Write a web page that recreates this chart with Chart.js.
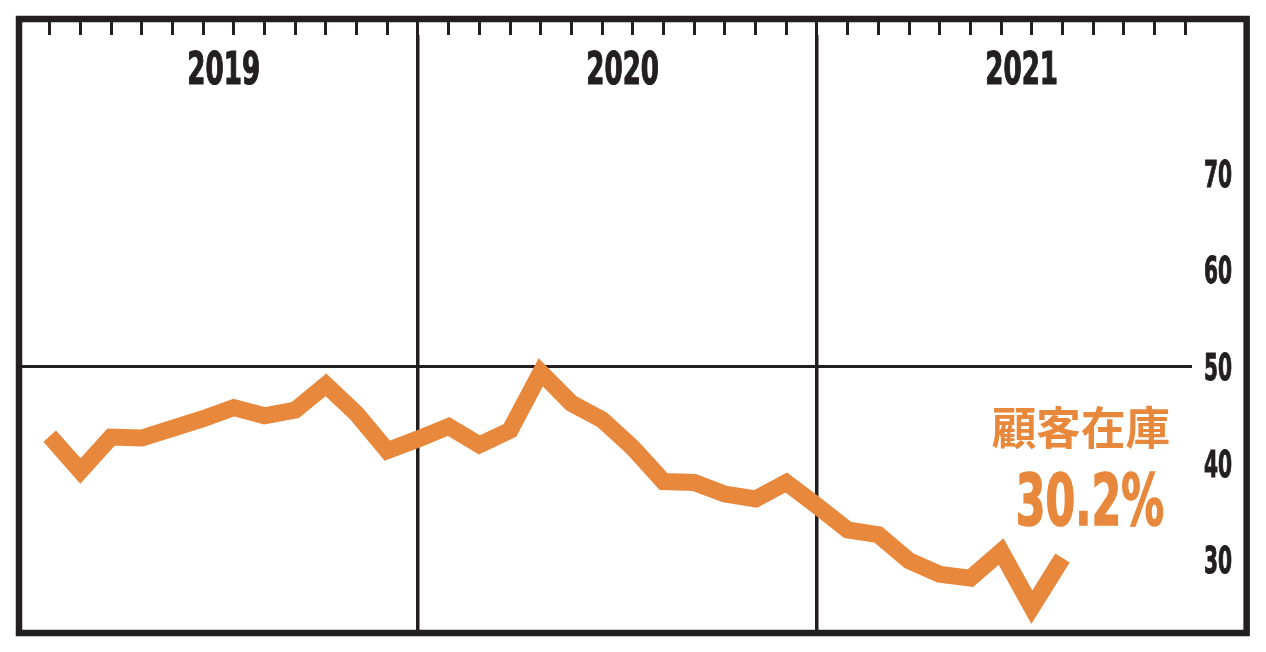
<!DOCTYPE html>
<html>
<head>
<meta charset="utf-8">
<script src="https://cdn.jsdelivr.net/npm/chart.js@4"></script>
<style>
  html, body { margin: 0; padding: 0; background: #fff; }
  #wrap { width: 1266px; height: 652px; }
</style>
</head>
<body>
<div id="wrap"><canvas id="chart" width="1266" height="652"></canvas></div>
<script>
// 13 four-week periods per year
const years = ['2019', '2020', '2021'];
const yearStart = [0, 13, 26];
const stock = [42.8, 39.2, 42.7, 42.6, 43.6, 44.6, 45.75, 44.9, 45.5, 48.1, 45.1, 41.3, 42.5,
               43.8, 41.9, 43.4, 49.4, 46.2, 44.5, 41.6, 38.1, 38.0, 36.8, 36.3, 38.0, 35.6,
               33.1, 32.6, 29.9, 28.5, 28.1, 30.85, 25.1, 30.2];
const yTicks = [30, 40, 50, 60, 70];
const seriesName = '顧客在庫';
const lastLabel = '30.2%';

const ink = '#231f20';
const orange = '#e8883c';
const narrow = "'DejaVu Sans Condensed', 'DejaVu Sans', sans-serif";

let periodTicks = [];
for (let k = 1; k <= 38; k++) periodTicks.push(k);

const points = stock.map((v, i) => ({ x: i + 1, y: v }));

// the original uses a compressed heavy face, so squeeze the condensed one sideways
function squeezeText(ctx, text, x, y, sx, align, heavy) {
  ctx.save();
  ctx.translate(x, y);
  ctx.scale(sx, 1);
  ctx.textAlign = align;
  ctx.fillText(text, 0, 0);
  if (heavy) {
    ctx.strokeStyle = ctx.fillStyle;
    ctx.lineWidth = heavy;
    ctx.strokeText(text, 0, 0);
  }
  ctx.restore();
}

const framePlugin = {
  id: 'frame',
  afterDraw(chart) {
    const ctx = chart.ctx;
    const x = chart.scales.x;
    const y = chart.scales.y;
    const top = chart.scales.xTop.top;
    const bottom = chart.chartArea.bottom;
    const left = x.getPixelForValue(0);
    const right = x.getPixelForValue(40);

    ctx.save();
    ctx.strokeStyle = ink;
    ctx.lineWidth = 6.5;
    ctx.strokeRect(left, top, right - left, bottom - top);

    ctx.fillStyle = ink;
    ctx.textBaseline = 'alphabetic';

    // year names
    ctx.font = "bold 44px " + narrow;
    years.forEach((yr, i) => {
      squeezeText(ctx, yr, x.getPixelForValue(yearStart[i] + 6.67), 84, 0.66, 'center', 1.2);
    });

    // value axis labels
    ctx.font = "bold 38px " + narrow;
    yTicks.forEach(v => {
      squeezeText(ctx, String(v), chart.chartArea.right + 12, y.getPixelForValue(v) + 13.5, 0.59, 'left', 1);
    });

    // series label
    ctx.fillStyle = orange;
    ctx.font = "bold 45px 'Noto Sans CJK JP', sans-serif";
    ctx.textBaseline = 'middle';
    squeezeText(ctx, seriesName, 1170, 428, 0.99, 'right', 0);
    ctx.font = "bold 72px " + narrow;
    ctx.textBaseline = 'alphabetic';
    squeezeText(ctx, lastLabel, 1164, 525, 0.66, 'right', 1.5);
    ctx.restore();
  }
};

new Chart(document.getElementById('chart'), {
  type: 'line',
  data: {
    datasets: [{
      label: seriesName,
      data: points,
      borderColor: orange,
      borderWidth: 17,
      borderJoinStyle: 'miter',
      borderCapStyle: 'butt',
      pointRadius: 0,
      tension: 0,
      fill: false
    }]
  },
  options: {
    responsive: false,
    animation: false,
    layout: { padding: { left: 19, top: 19, right: 0, bottom: 19 } },
    plugins: {
      legend: { display: false },
      tooltip: { enabled: false }
    },
    scales: {
      x: {
        type: 'linear',
        min: 0,
        max: 38.22,
        afterFit: s => { s.height = 0; },
        afterBuildTicks: s => { s.ticks = yearStart.slice(1).map(v => ({ value: v })); },
        grid: { drawTicks: false, lineWidth: 3.5, color: ink },
        border: { display: false },
        ticks: { display: false }
      },
      xTop: {
        type: 'linear',
        position: 'top',
        min: 0,
        max: 38.22,
        afterBuildTicks: s => { s.ticks = periodTicks.map(v => ({ value: v })); },
        grid: { drawOnChartArea: false, tickLength: 16, lineWidth: 3, color: ink },
        border: { display: false },
        ticks: { display: false }
      },
      y: {
        position: 'right',
        min: 22.43,
        max: 84.3,
        afterFit: s => { s.width = 74; },
        afterBuildTicks: s => { s.ticks = yTicks.map(v => ({ value: v })); },
        grid: {
          drawTicks: false,
          lineWidth: 3,
          color: c => (c.tick && c.tick.value === 50 ? ink : 'rgba(0,0,0,0)')
        },
        border: { display: false },
        ticks: { display: false }
      }
    }
  },
  plugins: [framePlugin]
});
</script>
</body>
</html>
